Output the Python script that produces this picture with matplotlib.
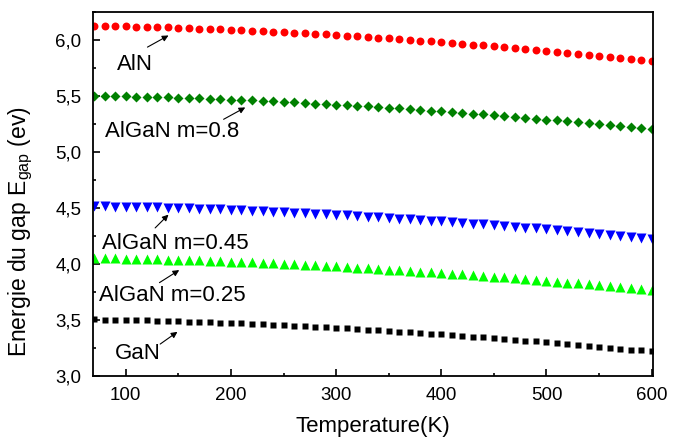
import matplotlib
matplotlib.use("Agg")
import matplotlib.pyplot as plt
from matplotlib.ticker import MultipleLocator, FuncFormatter

plt.rcParams['font.family'] = ['Liberation Sans', 'DejaVu Sans']
plt.rcParams['mathtext.default'] = 'regular'

# Temperature (K), one point every 10 K
temperature = list(range(70, 610, 10))

# Band gap energies (eV)
e_aln = [6.125, 6.123, 6.121, 6.119, 6.117, 6.115, 6.112, 6.110, 6.107, 6.104,
         6.100, 6.097, 6.093, 6.089, 6.085, 6.081, 6.077, 6.072, 6.068, 6.063,
         6.058, 6.053, 6.047, 6.042, 6.036, 6.030, 6.025, 6.018, 6.012, 6.006,
         5.999, 5.993, 5.986, 5.979, 5.972, 5.965, 5.957, 5.950, 5.942, 5.934,
         5.927, 5.919, 5.910, 5.902, 5.894, 5.885, 5.877, 5.868, 5.859, 5.850,
         5.841, 5.832, 5.822, 5.813]
e_m08 = [5.500, 5.499, 5.497, 5.495, 5.493, 5.491, 5.488, 5.486, 5.483, 5.480,
         5.477, 5.473, 5.470, 5.466, 5.462, 5.458, 5.454, 5.450, 5.446, 5.441,
         5.436, 5.431, 5.426, 5.421, 5.416, 5.410, 5.405, 5.399, 5.393, 5.387,
         5.381, 5.374, 5.368, 5.361, 5.354, 5.348, 5.341, 5.333, 5.326, 5.319,
         5.311, 5.304, 5.296, 5.288, 5.280, 5.272, 5.264, 5.255, 5.247, 5.238,
         5.230, 5.221, 5.212, 5.203]
e_m045 = [4.515, 4.514, 4.512, 4.510, 4.508, 4.506, 4.504, 4.501, 4.498, 4.495,
          4.492, 4.489, 4.486, 4.482, 4.478, 4.475, 4.471, 4.466, 4.462, 4.457,
          4.453, 4.448, 4.443, 4.438, 4.433, 4.427, 4.422, 4.416, 4.410, 4.405,
          4.398, 4.392, 4.386, 4.379, 4.373, 4.366, 4.359, 4.352, 4.345, 4.338,
          4.331, 4.323, 4.316, 4.308, 4.300, 4.292, 4.284, 4.276, 4.268, 4.260,
          4.251, 4.243, 4.234, 4.225]
e_m025 = [4.053, 4.052, 4.050, 4.048, 4.046, 4.044, 4.042, 4.039, 4.037, 4.034,
          4.031, 4.028, 4.024, 4.021, 4.017, 4.013, 4.009, 4.005, 4.001, 3.996,
          3.992, 3.987, 3.982, 3.977, 3.972, 3.967, 3.961, 3.956, 3.950, 3.944,
          3.938, 3.932, 3.926, 3.919, 3.913, 3.906, 3.900, 3.893, 3.886, 3.879,
          3.871, 3.864, 3.857, 3.849, 3.841, 3.833, 3.826, 3.818, 3.809, 3.801,
          3.793, 3.784, 3.776, 3.767]
e_gan = [3.505, 3.504, 3.502, 3.500, 3.498, 3.496, 3.494, 3.491, 3.489, 3.486,
         3.483, 3.480, 3.476, 3.473, 3.469, 3.465, 3.461, 3.457, 3.453, 3.448,
         3.444, 3.439, 3.434, 3.429, 3.424, 3.419, 3.413, 3.408, 3.402, 3.396,
         3.390, 3.384, 3.378, 3.371, 3.365, 3.358, 3.352, 3.345, 3.338, 3.331,
         3.323, 3.316, 3.309, 3.301, 3.293, 3.285, 3.278, 3.270, 3.261, 3.253,
         3.245, 3.236, 3.228, 3.219]

fig = plt.figure(figsize=(6.73, 4.43), dpi=100)
ax = fig.add_axes([0.1377, 0.1512, 0.8321, 0.8224])

ax.plot(temperature, e_aln, 'o', color='#ff0000', ms=5.7, mec='none')
ax.plot(temperature, e_m08, 'D', color='#008000', ms=5.2, mec='none')
ax.plot(temperature, e_m045, 'v', color='#0000ff', ms=7.2, mec='none')
ax.plot(temperature, e_m025, '^', color='#00ff00', ms=7.2, mec='none')
ax.plot(temperature, e_gan, 's', color='black', ms=4.4, mec='none')

# labels + little arrows
arrow = dict(arrowstyle='-|>', color='black', lw=0.8, mutation_scale=9,
             shrinkA=0, shrinkB=0)
labels = [
    ('AlN', (91.4, 5.727), (120.6, 5.934), (140.6, 6.038)),
    ('AlGaN m=0.8', (80.3, 5.135), (193.0, 5.290), (213.6, 5.396)),
    ('AlGaN m=0.45', (77.1, 4.129), (127.9, 4.321), (140.6, 4.440)),
    ('AlGaN m=0.25', (74.9, 3.670), (132.0, 3.833), (150.8, 3.945)),
    ('GaN', (89.8, 3.152), (132.7, 3.285), (149.1, 3.394)),
]
for txt, pos, tail, head in labels:
    ax.text(pos[0], pos[1], txt, fontsize=16, ha='left', va='baseline')
    ax.annotate('', xy=head, xytext=tail, arrowprops=arrow)

ax.set_xlim(68.5, 601)
ax.set_ylim(3.0, 6.25)

ax.xaxis.set_major_locator(MultipleLocator(100))
ax.xaxis.set_minor_locator(MultipleLocator(50))
ax.yaxis.set_major_locator(MultipleLocator(0.5))
ax.yaxis.set_minor_locator(MultipleLocator(0.25))
ax.yaxis.set_major_formatter(FuncFormatter(lambda v, p: f"{v:.1f}".replace('.', ',')))

ax.tick_params(which='both', direction='in', labelsize=13.5, pad=8, width=1.2)
ax.tick_params(which='major', length=5)
ax.tick_params(which='minor', length=2.5)
for s in ax.spines.values():
    s.set_linewidth(1.3)

ax.set_xlabel('Temperature(K)', fontsize=16)
ax.xaxis.set_label_coords(0.5, -0.11)
ax.set_ylabel('Energie du gap E$_{gap}$ (ev)', fontsize=16.5)
ax.yaxis.set_label_coords(-0.103, 0.397)

fig.savefig('out.png', dpi=100)
